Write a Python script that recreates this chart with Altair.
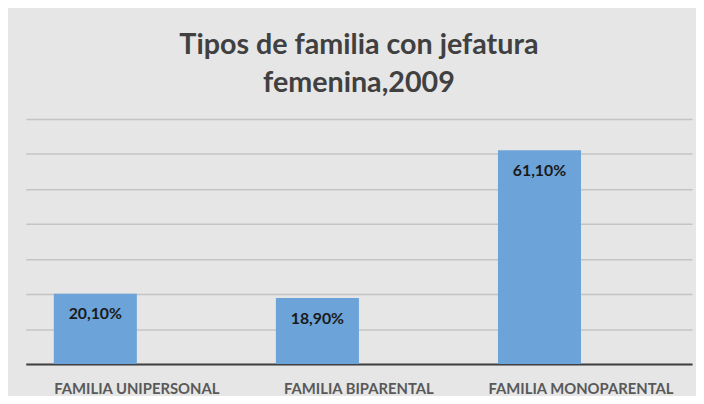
import altair as alt
import pandas as pd

categories = ["FAMILIA UNIPERSONAL", "FAMILIA BIPARENTAL", "FAMILIA MONOPARENTAL"]
values = [20.1, 18.9, 61.1]
labels = ["20,10%", "18,90%", "61,10%"]
y_ticks = [0, 10, 20, 30, 40, 50, 60, 70]
title_lines = ["Tipos de familia con jefatura", "femenina,2009"]

df = pd.DataFrame({"cat": categories, "val": values, "lab": labels})

FONT = "Lato"

x = alt.X(
    "cat:N",
    sort=categories,
    title=None,
    scale=alt.Scale(paddingInner=0, paddingOuter=0),
    axis=alt.Axis(
        labelAngle=0,
        labelFont=FONT,
        labelFontSize=15,
        labelFontWeight="bold",
        labelColor="#595959",
        labelPadding=18,
        labelLimit=0,
        ticks=False,
        domainColor="#404040",
        domainWidth=2,
        grid=False,
    ),
)
y = alt.Y(
    "val:Q",
    title=None,
    scale=alt.Scale(domain=[0, 70], nice=False),
    axis=alt.Axis(
        values=y_ticks,
        labels=False,
        ticks=False,
        domain=False,
        grid=True,
        gridColor="#c4c4c4",
        gridWidth=1.5,
    ),
)

bars = alt.Chart(df).mark_bar(width=84, xOffset=-42, color="#6CA3D8").encode(x=x, y=y)
text = alt.Chart(df).mark_text(
    xOffset=-42, dy=13, baseline="top", font=FONT, fontSize=16,
    fontWeight="bold", color="#1a1a1a"
).encode(x=x, y=y, text="lab:N")

chart = (
    alt.layer(bars, text)
    .properties(
        width=674,
        height=248,
        title=alt.TitleParams(
            title_lines,
            font=FONT,
            fontSize=29,
            fontWeight="bold",
            color="#404040",
            anchor="middle",
            frame="group",
            lineHeight=39,
            offset=21,
        ),
        autosize=alt.AutoSizeParams(type="none"),
        padding={"left": 18, "top": 110, "right": 4, "bottom": 30},
    )
    .configure(background="#e6e6e6")
    .configure_view(stroke=None)
)

chart.save("out.html", embed_options={"renderer": "svg", "actions": False})
